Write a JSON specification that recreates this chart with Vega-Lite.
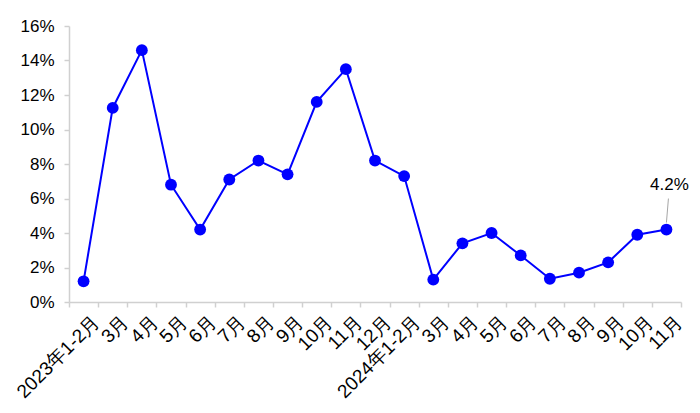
{
  "$schema": "https://vega.github.io/schema/vega-lite/v6.json",
  "width": 612,
  "height": 276,
  "padding": {"left": 13, "top": 17, "right": 20, "bottom": 5},
  "background": "white",
  "config": {
    "view": {"stroke": null},
    "font": "Liberation Sans",
    "axis": {
      "labelFont": "Liberation Sans",
      "labelFontSize": 17,
      "labelColor": "#000000",
      "domainColor": "#d0d0d0",
      "tickColor": "#d0d0d0",
      "domainWidth": 1.5,
      "tickWidth": 1.5,
      "grid": false,
      "title": null
    }
  },
  "data": {
    "values": [
      {"key": "2023年1-2月", "value": 0.012},
      {"key": "2023年3月", "value": 0.1125},
      {"key": "2023年4月", "value": 0.146},
      {"key": "2023年5月", "value": 0.068},
      {"key": "2023年6月", "value": 0.042},
      {"key": "2023年7月", "value": 0.071},
      {"key": "2023年8月", "value": 0.082},
      {"key": "2023年9月", "value": 0.074},
      {"key": "2023年10月", "value": 0.116},
      {"key": "2023年11月", "value": 0.135},
      {"key": "2023年12月", "value": 0.082},
      {"key": "2024年1-2月", "value": 0.073},
      {"key": "2024年3月", "value": 0.013},
      {"key": "2024年4月", "value": 0.034},
      {"key": "2024年5月", "value": 0.040},
      {"key": "2024年6月", "value": 0.027},
      {"key": "2024年7月", "value": 0.0135},
      {"key": "2024年8月", "value": 0.017},
      {"key": "2024年9月", "value": 0.023},
      {"key": "2024年10月", "value": 0.039},
      {"key": "2024年11月", "value": 0.042}
    ]
  },
  "encoding": {
    "x": {
      "field": "key",
      "type": "ordinal",
      "sort": null,
      "scale": {"paddingInner": 0, "paddingOuter": 0},
      "axis": {
        "labelAngle": -45,
        "labelAlign": "right",
        "labelBaseline": "top",
        "labelPadding": 5,
        "labelOffset": 6,
        "labelFontSize": 19,
        "tickBand": "extent",
        "tickSize": 5,
        "labelExpr": "(datum.label == '2023年1-2月' || datum.label == '2024年1-2月') ? datum.label : substring(datum.label, 5)"
      }
    },
    "y": {
      "field": "value",
      "type": "quantitative",
      "scale": {"domain": [0, 0.16]},
      "axis": {
        "format": ".0%",
        "values": [0, 0.02, 0.04, 0.06, 0.08, 0.1, 0.12, 0.14, 0.16],
        "tickSize": 5,
        "labelPadding": 10
      }
    }
  },
  "layer": [
    {"mark": {"type": "line", "color": "#0000ff", "strokeWidth": 2}},
    {"mark": {"type": "point", "filled": true, "color": "#0000ff", "size": 140, "opacity": 1}},
    {
      "transform": [{"filter": "datum.key == '2024年11月'"}],
      "mark": {"type": "rule", "color": "#a6a6a6", "strokeWidth": 1, "yOffset": -7, "y2Offset": -31, "x2Offset": 2},
      "encoding": {
        "x2": {"field": "key"},
        "y2": {"field": "value"}
      }
    },
    {
      "transform": [{"filter": "datum.key == '2024年11月'"}],
      "mark": {"type": "text", "fontSize": 17, "color": "#000000", "dy": -45, "dx": 3, "baseline": "middle", "align": "center"},
      "encoding": {
        "text": {"field": "value", "type": "quantitative", "format": ".1%"}
      }
    }
  ]
}
